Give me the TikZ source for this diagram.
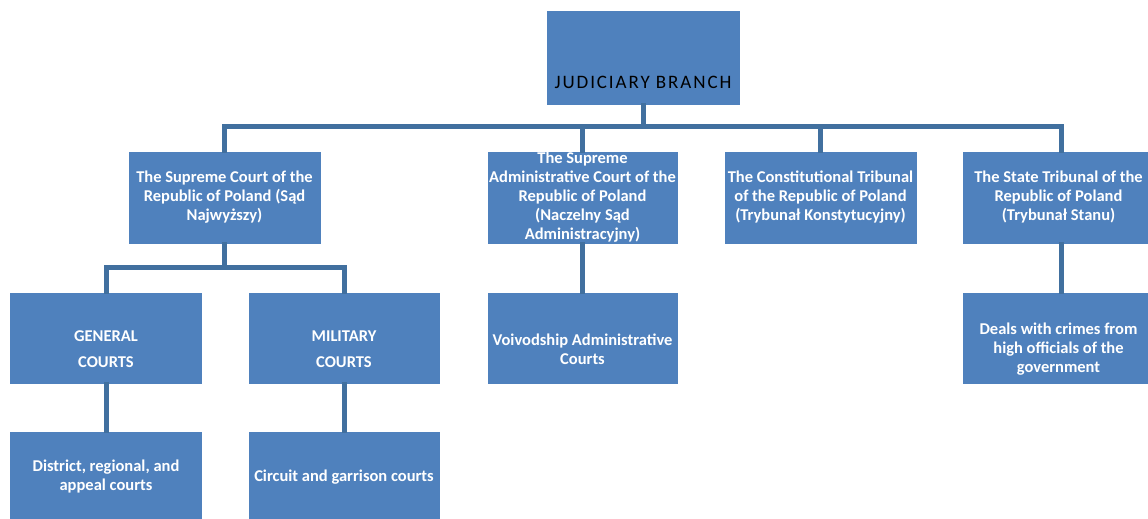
\documentclass[tikz,border=0pt]{standalone}
\usepackage{fontspec}
\setmainfont{Carlito}
\definecolor{boxblue}{HTML}{4F81BD}
\definecolor{connblue}{HTML}{41709F}
\begin{document}
\begin{tikzpicture}[x=1pt,y=-1pt,
  box/.style={rectangle, fill=boxblue, draw=white, line width=0.8pt, inner sep=0pt,
    align=center, text=white, font=\fontsize{16.5}{19}\selectfont\bfseries},
  lvtwo/.style={box, minimum width=193pt, minimum height=93pt},
  lvthree/.style={box, minimum width=193pt, minimum height=92pt},
  lbl/.style={yshift=-11pt, text=white, align=center},
  conn/.style={draw=connblue, line width=5pt, line join=miter, line cap=rect}]
\useasboundingbox (0,0) rectangle (1148,519);
\clip (0,0) rectangle (1148,519);
% top
\node[box, minimum width=194pt, minimum height=95pt,
  label={[yshift=-24.5pt, text=black, font=\fontsize{19}{22}\selectfont\addfontfeatures{LetterSpace=10}]center:JUDICIARY BRANCH}] (top) at (643,57.5) {};
% level 2
\node[lvtwo] (sc) at (224.5,197.5) {The Supreme Court of the\\Republic of Poland (Sąd\\Najwyższy)};
\node[lvtwo, minimum width=191pt] (sac) at (582.5,197.5) {The Supreme\\Administrative Court of the\\Republic of Poland\\(Naczelny Sąd\\Administracyjny)};
\node[lvtwo] (ct) at (820.5,197.5) {The Constitutional Tribunal\\of the Republic of Poland\\(Trybunał Konstytucyjny)};
\node[lvtwo] (st) at (1058.5,197.5) {The State Tribunal of the\\Republic of Poland\\(Trybunał Stanu)};
% level 3
\node[lvthree, label={[lbl, font=\fontsize{16.5}{26}\selectfont\bfseries]center:GENERAL\\COURTS}] (gen) at (106,338) {};
\node[lvthree, minimum width=192pt, label={[lbl, font=\fontsize{16.5}{26}\selectfont\bfseries]center:MILITARY\\COURTS}] (mil) at (344,338) {};
\node[lvthree, minimum width=191pt, label={[lbl, font=\fontsize{16.5}{19}\selectfont\bfseries]center:Voivodship Administrative\\Courts}] (voi) at (582.5,338) {};
\node[lvthree, label={[lbl, font=\fontsize{16.5}{19}\selectfont\bfseries]center:Deals with crimes from\\high officials of the\\government}] (deals) at (1058.5,338) {};
% level 4
\node[lvthree] (dist) at (106,477) {District, regional, and\\appeal courts};
\node[lvthree, minimum width=192pt] (circ) at (344,477) {Circuit and garrison courts};
% connectors
\coordinate (bar) at (0,126.5);
\coordinate (sub) at (0,267);
\draw[conn] (top.south) -- (top.south |- bar);
\draw[conn] (sc.north) -- (sc.north |- bar) -- ([xshift=3pt]st.north |- bar) -- ([xshift=3pt]st.north);
\draw[conn] (sac.north) -- (sac.north |- bar);
\draw[conn] (ct.north) -- (ct.north |- bar);
\draw[conn] (sc.south) -- (sc.south |- sub);
\draw[conn] (gen.north) -- (gen.north |- sub) -- (mil.north |- sub) -- (mil.north);
\draw[conn] (sac.south) -- (voi.north);
\draw[conn] ([xshift=3pt]st.south) -- ([xshift=3pt]deals.north);
\draw[conn] (gen.south) -- (dist.north);
\draw[conn] (mil.south) -- (circ.north);
\end{tikzpicture}
\end{document}
